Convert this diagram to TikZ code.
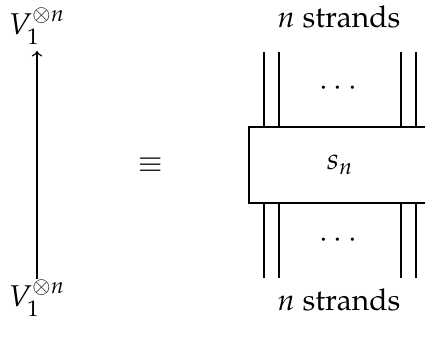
\documentclass[tikz,border=0pt]{standalone}
\usepackage[T1]{fontenc}
\usepackage{mathpazo}
\begin{document}
\begin{tikzpicture}[x=0.4pt,y=-0.4pt,line width=0.6pt,
  every node/.style={font=\large},
  lbl/.style={inner sep=0pt, anchor=base},
  strand/.style={line width=0.6pt}]
\useasboundingbox (0,0) rectangle (425,336);
% left
\node[lbl] (vt) at (37,34) {$V_1^{\otimes n}$};
\node[lbl] (vb) at (37,306) {$V_1^{\otimes n}$};
\coordinate (atop) at (37,51);
\coordinate (abot) at (37,279);
\draw[->] (abot) -- (atop);
\node (eq) at (151,165) {$\equiv$};
% right
\node[draw, minimum width=72.8pt, minimum height=30.4pt, inner sep=0pt] (box) at (340,165) {$s_n$};
\node[lbl] (nt) at (339,27) {$n$ strands};
\node[lbl] (nb) at (339,310) {$n$ strands};
\node (dt) at (338,89) {$\cdots$};
\node (db) at (338,241) {$\cdots$};
\foreach \x/\i in {264/1,279/2,401/3,416/4}{
  \coordinate (t\i) at (\x,52);
  \coordinate (b\i) at (\x,278);
  \draw[strand] (t\i) -- (box.north -| t\i);
  \draw[strand] (b\i) -- (box.south -| b\i);
}
\end{tikzpicture}
\end{document}
